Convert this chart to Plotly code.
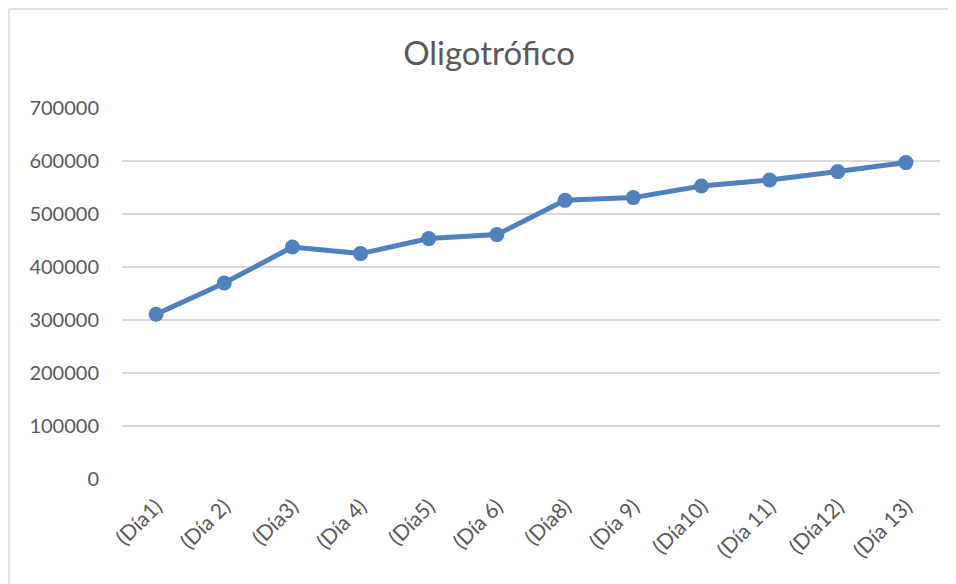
import plotly.graph_objects as go

categories = ["(Día1)", "(Día 2)", "(Día3)", "(Día 4)", "(Día5)", "(Día 6)",
              "(Día8)", "(Día 9)", "(Día10)", "(Día 11)", "(Día12)", "(Día 13)"]
values = [310800, 369800, 437700, 425300, 453600, 461100,
          525800, 530900, 552800, 564200, 580000, 597000]
y_ticks = [0, 100000, 200000, 300000, 400000, 500000, 600000, 700000]
title_text = "Oligotrófico"

FONT = "Lato"
GRAY = "#595959"
GRID = "#d9d9d9"
BLUE = "#4f81bd"

W, H = 948, 576
L, R, T, B = 114, 16, 100, 105
PW, PH = W - L - R, H - T - B

fig = go.Figure()
fig.add_trace(go.Scatter(
    x=categories, y=values, mode="lines+markers",
    line=dict(color=BLUE, width=5),
    marker=dict(color=BLUE, size=15),
    showlegend=False, hoverinfo="x+y",
))

bx = (1 - L) / PW
by = (PH + T - 1) / PH

fig.update_layout(
    width=W, height=H,
    margin=dict(l=L, r=R, t=T, b=B),
    paper_bgcolor="white", plot_bgcolor="white",
    font=dict(family=FONT, color=GRAY, size=20),
    title=dict(text=title_text, x=(489 - 8) / W, xanchor="center",
               y=1 - 45 / H, yanchor="middle", yref="container",
               font=dict(family=FONT, size=33, color=GRAY)),
    xaxis=dict(
        type="category", showgrid=False, zeroline=False, showline=False,
        tickangle=-45, tickfont=dict(size=21, color=GRAY),
        ticklabelstandoff=10, range=[-0.5, len(categories) - 0.5],
    ),
    yaxis=dict(
        range=[0, 700000], tickvals=y_ticks,
        ticktext=[str(v) for v in y_ticks],
        showgrid=True, gridcolor=GRID, gridwidth=1.5,
        zeroline=False, showline=False,
        tickfont=dict(size=20, color=GRAY), ticklabelstandoff=22,
    ),
    shapes=[
        dict(type="line", xref="paper", yref="paper",
             x0=bx, x1=bx, y0=by, y1=-0.5,
             line=dict(color=GRID, width=1.5)),
        dict(type="line", xref="paper", yref="paper",
             x0=bx, x1=1.2, y0=by, y1=by,
             line=dict(color=GRID, width=1.5)),
    ],
)

fig.write_html("out.html")
